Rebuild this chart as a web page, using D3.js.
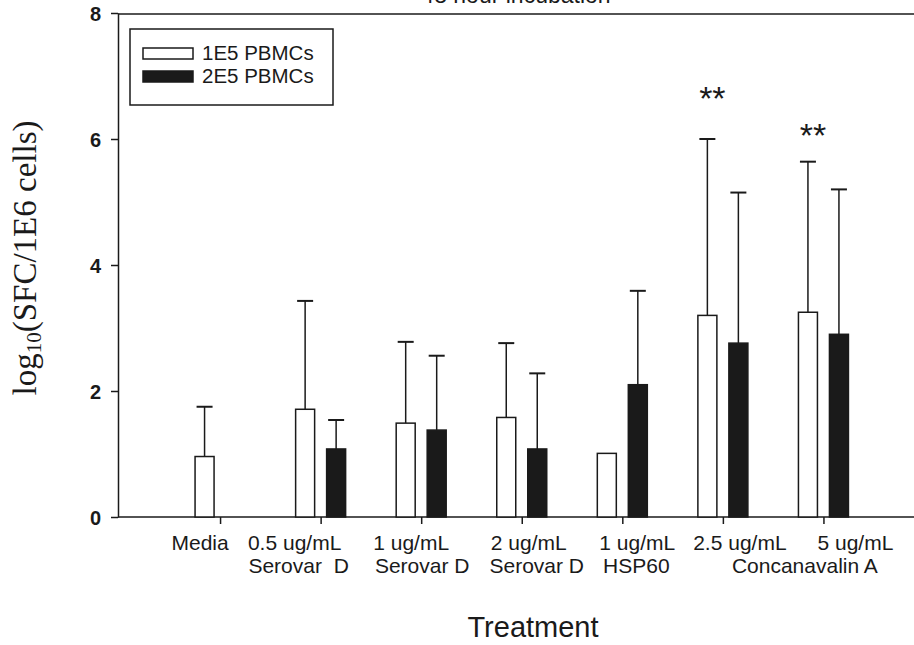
<!DOCTYPE html>
<html lang="en">
<head>
<meta charset="UTF-8">
<title>48 hour incubation</title>
<style>
  body { margin: 0; background: #fff; }
  svg { display: block; font-family: "Liberation Sans", Arial, sans-serif; }
</style>
</head>
<body>
<svg height="645" width="914"></svg>

<script src="https://d3js.org/d3.v7.min.js"></script>
<script>

  // values
  var doses = ["Media", "0.5 ug/mL", "1 ug/mL", "2 ug/mL", "1 ug/mL", "2.5 ug/mL", "5 ug/mL"];
  var agents = ["", "Serovar  D", "Serovar D", "Serovar D", "HSP60", "Concanavalin A", ""];
  var pbmc1E5 = [0.96, 1.71, 1.49, 1.58, 1.01, 3.20, 3.25];
  var pbmc1E5Err = [0.79, 1.72, 1.29, 1.18, 0, 2.80, 2.39];
  var pbmc2E5 = [0, 1.08, 1.38, 1.08, 2.10, 2.76, 2.90];
  var pbmc2E5Err = [0, 0.46, 1.18, 1.20, 1.49, 2.39, 2.30];
  var yTicks = [0, 2, 4, 6, 8];
  var seriesNames = ["1E5 PBMCs", "2E5 PBMCs"];
  var sigMarks = [{index: 5, y: 6.78}, {index: 6, y: 6.19}];

  var svg = d3.select("svg");
  var ink = "#1a1a1a";

  var plotLeft = 118, plotTop = 14, plotBottom = 517;

  var xPos = d3.scaleLinear().domain([0, 8]).range([119.5, 924]);
  var yPos = d3.scaleLinear().domain([0, 8]).range([plotBottom, plotTop - 1]);

  var barWidth = 19, barGap = 6;

  // frame
  svg.append("line")
      .attr("x1", plotLeft).attr("x2", 914)
      .attr("y1", plotTop).attr("y2", plotTop)
      .attr("stroke", ink).attr("stroke-width", 1.5);

  var yAxis = d3.axisLeft(yPos).tickValues(yTicks).tickSize(7).tickSizeOuter(0);
  var yG = svg.append("g")
      .attr("transform", "translate(" + plotLeft + ",0)")
      .call(yAxis);
  yG.select(".domain").attr("stroke", ink).attr("stroke-width", 1.5);
  yG.selectAll(".tick line").attr("stroke", ink).attr("stroke-width", 1.5);
  yG.selectAll(".tick text")
      .attr("x", -17)
      .attr("dy", "0.36em")
      .attr("fill", ink)
      .style("font-size", "20px")
      .style("font-weight", "bold")
      .style("font-family", "'Liberation Sans', Arial, sans-serif");

  var xAxis = d3.axisBottom(xPos).tickValues(d3.range(1, 8)).tickSize(7).tickSizeOuter(0).tickFormat("");
  var xG = svg.append("g")
      .attr("transform", "translate(0," + plotBottom + ")")
      .call(xAxis);
  xG.select(".domain").attr("d", "M" + plotLeft + ",0H914").attr("stroke", ink).attr("stroke-width", 1.5);
  xG.selectAll(".tick line").attr("stroke", ink).attr("stroke-width", 1.5);

  // bars
  var rows = doses.map(function(d, i) {
    return {i: i, a: pbmc1E5[i], aErr: pbmc1E5Err[i], b: pbmc2E5[i], bErr: pbmc2E5Err[i]};
  });

  var groups = svg.selectAll(".grp")
      .data(rows)
      .enter()
      .append("g")
      .attr("class", "grp");

  function drawBar(sel, key, errKey, left, fill) {
    sel.filter(function(d) { return d[key] > 0; })
        .each(function(d) {
          var g = d3.select(this);
          var x0 = xPos(d.i + 1) + left;
          if (d[errKey] > 0) {
            var cx = x0 + barWidth / 2;
            g.append("line")
                .attr("x1", cx).attr("x2", cx)
                .attr("y1", yPos(d[key])).attr("y2", yPos(d[key] + d[errKey]))
                .attr("stroke", ink).attr("stroke-width", 1.5);
            g.append("line")
                .attr("x1", cx - 8).attr("x2", cx + 8)
                .attr("y1", yPos(d[key] + d[errKey])).attr("y2", yPos(d[key] + d[errKey]))
                .attr("stroke", ink).attr("stroke-width", 2);
          }
          g.append("rect")
              .attr("x", x0)
              .attr("y", yPos(d[key]))
              .attr("width", barWidth)
              .attr("height", yPos(0) - yPos(d[key]))
              .attr("fill", fill)
              .attr("stroke", ink)
              .attr("stroke-width", 1.5);
        });
  }

  drawBar(groups, "a", "aErr", -barGap - barWidth, "#fff");
  drawBar(groups, "b", "bErr", barGap, ink);

  // significance marks
  svg.selectAll(".sig")
      .data(sigMarks)
      .enter()
      .append("text")
      .attr("x", function(d) { return xPos(d.index + 1) - barGap - barWidth / 2 + 5; })
      .attr("y", function(d) { return yPos(d.y) + 20; })
      .attr("text-anchor", "middle")
      .attr("fill", ink)
      .style("font-size", "34px")
      .text("**");

  // category labels (hand nudged like the original)
  var doseShift = [-20, -26, -10, 7, 15, 17, 32];
  var agentShift = [0, -22, 1, 15, 14, 82, 0];

  svg.selectAll(".dose")
      .data(doses)
      .enter()
      .append("text")
      .attr("x", function(d, i) { return xPos(i + 1) + doseShift[i]; })
      .attr("y", 550)
      .attr("text-anchor", "middle")
      .attr("fill", ink)
      .style("font-size", "21px")
      .text(function(d) { return d; });

  svg.selectAll(".agent")
      .data(agents)
      .enter()
      .append("text")
      .attr("x", function(d, i) { return xPos(i + 1) + agentShift[i]; })
      .attr("y", 573)
      .attr("text-anchor", "middle")
      .attr("fill", ink)
      .style("font-size", "21px")
      .style("white-space", "pre")
      .text(function(d) { return d; });

  // axis titles
  svg.append("text")
      .attr("x", 533)
      .attr("y", 637)
      .attr("text-anchor", "middle")
      .attr("fill", ink)
      .style("font-size", "29px")
      .text("Treatment");

  var yTitle = svg.append("text")
      .attr("transform", "translate(36,258) rotate(-90)")
      .attr("text-anchor", "middle")
      .attr("fill", ink)
      .style("font-family", "'Liberation Serif', 'Times New Roman', serif")
      .style("font-size", "33px");
  yTitle.append("tspan").text("log");
  yTitle.append("tspan").attr("dy", 5).style("font-size", "21px").text("10");
  yTitle.append("tspan").attr("dy", -5).text("(SFC/1E6 cells)");

  // chart title, cut by the top edge as in the scan
  svg.append("text")
      .attr("x", 516)
      .attr("y", 3)
      .attr("text-anchor", "middle")
      .attr("fill", ink)
      .style("font-size", "23px")
      .text("48 hour incubation");

  // legend
  var legend = svg.append("g").attr("transform", "translate(130,29)");
  legend.append("rect")
      .attr("width", 203).attr("height", 76)
      .attr("fill", "#fff").attr("stroke", ink).attr("stroke-width", 1.5);

  var items = legend.selectAll(".item")
      .data(seriesNames)
      .enter()
      .append("g")
      .attr("transform", function(d, i) { return "translate(13," + (19 + i * 23) + ")"; });
  items.append("rect")
      .attr("width", 50).attr("height", 11)
      .attr("fill", function(d, i) { return i === 0 ? "#fff" : ink; })
      .attr("stroke", ink).attr("stroke-width", 1.5);
  items.append("text")
      .attr("x", 59).attr("y", 11.5)
      .attr("fill", ink)
      .style("font-size", "20.5px")
      .text(function(d) { return d; });

</script>
</body>
</html>
